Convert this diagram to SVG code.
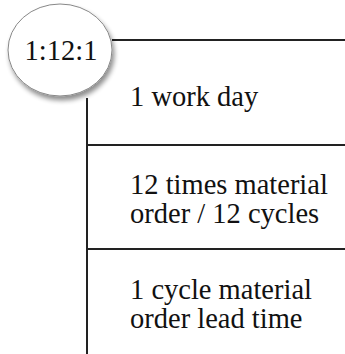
<svg xmlns="http://www.w3.org/2000/svg" width="345" height="354" viewBox="0 0 345 354">
<style>
.t{font-family:"Liberation Serif","Times New Roman",serif;font-size:28.5px;fill:#111}
.ln{stroke:#222;stroke-width:2;fill:none}
</style>
<defs>
<filter id="sh" x="-20%" y="-20%" width="150%" height="150%">
<feGaussianBlur in="SourceAlpha" stdDeviation="2.5"/>
<feOffset dx="2" dy="4" result="b"/>
<feComponentTransfer><feFuncA type="linear" slope="0.45"/></feComponentTransfer>
<feMerge><feMergeNode/><feMergeNode in="SourceGraphic"/></feMerge>
</filter>
</defs>
<rect width="345" height="354" fill="#fff"/>
<g id="connectors">
<line class="ln" x1="87" y1="98" x2="87" y2="354"/>
<line class="ln" x1="112" y1="40" x2="345" y2="40"/>
<line class="ln" x1="87" y1="145" x2="345" y2="145"/>
<line class="ln" x1="87" y1="249" x2="345" y2="249"/>
</g>
<g id="node-ratio">
<ellipse cx="60" cy="50" rx="52" ry="46" fill="#fff" stroke="#888" stroke-width="1" filter="url(#sh)"/>
<text class="t" x="61" y="60" text-anchor="middle">1:12:1</text>
</g>
<g id="node-day">
<text class="t" x="130" y="106">1 work day</text>
</g>
<g id="node-cycles">
<text class="t" x="130" y="194">12 times material</text>
<text class="t" x="130" y="223">order / 12 cycles</text>
</g>
<g id="node-leadtime">
<text class="t" x="130" y="299">1 cycle material</text>
<text class="t" x="130" y="328">order lead time</text>
</g>
</svg>
